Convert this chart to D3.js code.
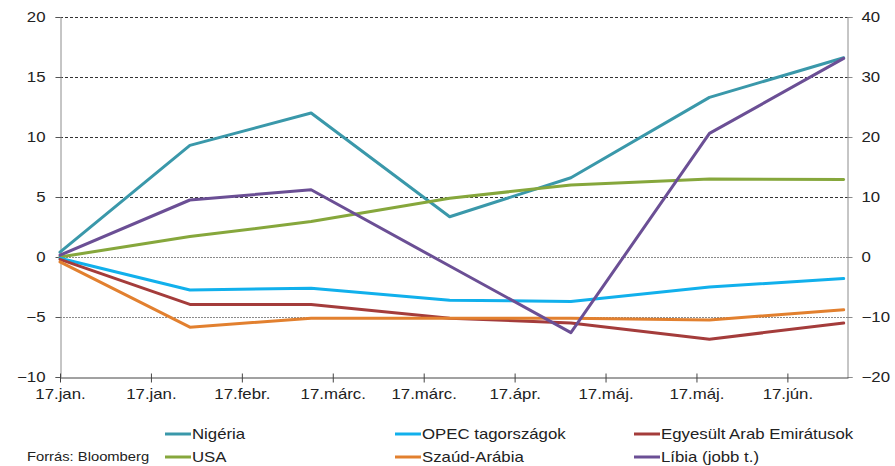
<!DOCTYPE html>
<html>
<head>
<meta charset="utf-8">
<script src="https://cdn.jsdelivr.net/npm/d3@7"></script>
<style>
  html, body { margin: 0; padding: 0; background: #fff; }
  svg { display: block; font-family: "Liberation Sans", Arial, sans-serif; }
</style>
</head>
<body>
<svg id="chart" width="895" height="466"></svg>
<script>
// Observation dates (monthly)
const dates = ["2017-01-02", "2017-02-01", "2017-03-01", "2017-04-02", "2017-04-30", "2017-06-01", "2017-07-02"];

// Series on the left axis
const nigeria = [0.4, 9.3, 12.0, 3.35, 6.6, 13.3, 16.6];
const opec    = [-0.1, -2.75, -2.6, -3.6, -3.7, -2.5, -1.8];
const uae     = [-0.2, -3.95, -3.95, -5.1, -5.5, -6.85, -5.5];
const usa     = [0, 1.7, 2.95, 4.9, 6.0, 6.5, 6.45];
const saudi   = [-0.4, -5.85, -5.1, -5.1, -5.1, -5.25, -4.4];
// Series on the right axis
const libya   = [0.3, 9.5, 11.2, -1.5, -12.6, 20.6, 33.1];

// Axis ticks
const xTickDates  = ["2017-01-02", "2017-01-23", "2017-02-13", "2017-03-06", "2017-03-27", "2017-04-17", "2017-05-08", "2017-05-29", "2017-06-19"];
const xTickLabels = ["17.jan.", "17.jan.", "17.febr.", "17.márc.", "17.márc.", "17.ápr.", "17.máj.", "17.máj.", "17.jún."];
const leftTicks   = [20, 15, 10, 5, 0, -5, -10];
const rightTicks  = [40, 30, 20, 10, 0, -10, -20];
const xDomain     = ["2017-01-02", "2017-07-03"];

const series = [
  { name: "Nigéria", values: nigeria, axis: "left", color: "#3a98aa" },
  { name: "USA", values: usa, axis: "left", color: "#86a73c" },
  { name: "OPEC tagországok", values: opec, axis: "left", color: "#11b0ec" },
  { name: "Szaúd-Arábia", values: saudi, axis: "left", color: "#e2802f" },
  { name: "Egyesült Arab Emirátusok", values: uae, axis: "left", color: "#a43c3b" },
  { name: "Líbia (jobb t.)", values: libya, axis: "right", color: "#6b4f95" }
];
const drawOrder = ["Nigéria", "USA", "OPEC tagországok", "Egyesült Arab Emirátusok", "Szaúd-Arábia", "Líbia (jobb t.)"];

const svg = d3.select("#chart");
const margin = { left: 60, right: 848, top: 17, bottom: 377 };
const parse = d3.utcParse("%Y-%m-%d");
const STRETCH = 1.2; // wide lettering

// Widen a text element horizontally around its own anchor x
function widen(sel) {
  sel.each(function () {
    const t = d3.select(this);
    const x0 = +t.attr("x") || 0;
    t.attr("transform", `translate(${x0},0) scale(${STRETCH},1) translate(${-x0},0)`);
  });
}

const x = d3.scaleUtc().domain(xDomain.map(parse)).range([margin.left, margin.right]);
const yL = d3.scaleLinear().domain([-10, 20]).range([margin.bottom, margin.top]);
const yR = d3.scaleLinear().domain([-20, 40]).range([margin.bottom, margin.top]);

// Gridlines
svg.append("g").selectAll("line")
  .data(leftTicks.filter(d => d > -10))
  .join("line")
  .attr("x1", margin.left).attr("x2", margin.right)
  .attr("y1", d => Math.round(yL(d)) + 0.5).attr("y2", d => Math.round(yL(d)) + 0.5)
  .attr("stroke", d => d <= 0 ? "#8a8a8a" : "#333")
  .attr("stroke-width", 1)
  .attr("stroke-dasharray", d => d <= 0 ? "2,1" : "3,2");

const fontFamily = "Liberation Sans, Arial, sans-serif";

// Left axis
const gL = svg.append("g").attr("transform", `translate(${margin.left + 0.5},0)`)
  .call(d3.axisLeft(yL).tickValues(leftTicks).tickSize(5).tickPadding(10).tickFormat(d3.format("d")));
gL.select(".domain").attr("stroke", "#8c8c8c");
gL.selectAll(".tick line").attr("stroke", "#555");
gL.selectAll("text").attr("font-size", 14).attr("fill", "#222").attr("font-family", fontFamily).call(widen);

// Right axis
const gR = svg.append("g").attr("transform", `translate(${margin.right - 0.5},0)`)
  .call(d3.axisRight(yR).tickValues(rightTicks).tickSize(5).tickPadding(9).tickFormat(d3.format("d")));
gR.select(".domain").attr("stroke", "#8c8c8c");
gR.selectAll(".tick line").attr("stroke", "#8c8c8c");
gR.selectAll("text").attr("font-size", 14).attr("fill", "#222").attr("font-family", fontFamily).call(widen);

// Bottom axis
const xTickMap = new Map(xTickDates.map((d, i) => [+parse(d), xTickLabels[i]]));
const gX = svg.append("g").attr("transform", `translate(0,${margin.bottom + 0.5})`)
  .call(d3.axisBottom(x).tickValues(xTickDates.map(parse)).tickSizeOuter(0).tickSizeInner(5).tickPadding(7)
    .tickFormat(d => xTickMap.get(+d)));
gX.select(".domain").attr("stroke", "#444");
gX.selectAll(".tick line").attr("stroke", "#444").attr("y1", -4);
gX.selectAll("text").attr("font-size", 14).attr("fill", "#222").attr("font-family", fontFamily).call(widen);

// Lines
const byName = new Map(series.map(s => [s.name, s]));
drawOrder.forEach(name => {
  const s = byName.get(name);
  const yScale = s.axis === "left" ? yL : yR;
  const line = d3.line().x((d, i) => x(parse(dates[i]))).y(d => yScale(d));
  svg.append("path")
    .datum(s.values)
    .attr("d", line)
    .attr("fill", "none")
    .attr("stroke", s.color)
    .attr("stroke-width", 3)
    .attr("stroke-linejoin", "round")
    .attr("stroke-linecap", "round");
});

// Legend
const legendCols = [165, 395, 634];
const legendRows = [434, 457];
const legend = svg.append("g");
series.forEach((s, i) => {
  const col = Math.floor(i / 2), row = i % 2;
  const g = legend.append("g").attr("transform", `translate(${legendCols[col]},${legendRows[row]})`);
  g.append("line").attr("x1", 0).attr("x2", 26).attr("y1", 0).attr("y2", 0)
    .attr("stroke", s.color).attr("stroke-width", 3);
  g.append("text").attr("x", 27).attr("y", 0).attr("dy", "0.35em")
    .attr("font-size", 14).attr("fill", "#222").text(s.name).call(widen);
});

svg.append("text").attr("x", 27).attr("y", 457).attr("dy", "0.35em")
  .attr("font-size", 12.3).attr("fill", "#222").text("Forrás: Bloomberg").call(widen);
</script>
</body>
</html>
